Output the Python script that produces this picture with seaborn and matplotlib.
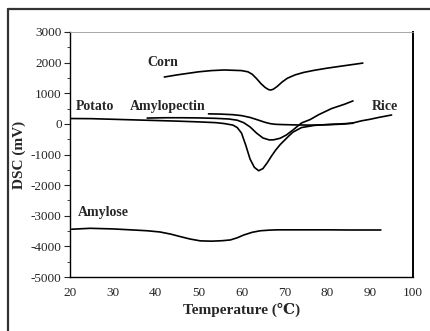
import matplotlib
matplotlib.use("Agg")
import matplotlib.pyplot as plt
from matplotlib.lines import Line2D
from matplotlib.ticker import MultipleLocator
import seaborn as sns
import pandas as pd

# ---- data ----
corn_t = [42, 45, 50, 53, 56, 60, 61.5, 62.5, 63.5, 64.5, 65.5, 66.3, 66.8, 67.4, 68.3, 69.5, 70.7, 72.5, 74.5, 77, 80, 84, 88.3]
corn_v = [1530, 1600, 1700, 1740, 1760, 1740, 1700, 1620, 1480, 1320, 1190, 1120, 1105, 1130, 1220, 1370, 1490, 1600, 1680, 1750, 1820, 1900, 1985]

potato_t = [20, 25, 30, 35, 40, 45, 50, 54, 56, 58, 59, 60, 61, 62, 63, 64, 65, 66, 67, 68, 69, 70, 71, 72, 74, 77, 80, 83, 86]
potato_v = [175, 170, 150, 130, 110, 90, 65, 40, 10, -40, -120, -300, -700, -1150, -1420, -1530, -1460, -1270, -1050, -850, -680, -540, -400, -270, -120, -50, -20, 0, 20]

amylo_t = [38, 42, 46, 50, 54, 57, 59, 60.5, 62, 63.5, 65, 66.5, 67.5, 69, 70.5, 72, 74, 76, 78, 81, 84, 86]
amylo_v = [190, 200, 200, 195, 180, 160, 120, 40, -100, -300, -460, -525, -520, -470, -360, -200, 30, 140, 300, 500, 640, 750]

rice_t = [52.3, 55, 58, 60, 62, 64, 65.5, 66.8, 68, 70, 73, 76, 80, 84, 86, 88, 90, 92, 95]
rice_v = [327, 320, 300, 270, 210, 120, 50, 5, -15, -25, -35, -40, -30, -5, 30, 100, 150, 210, 290]

amylose_t = [20.4, 24.7, 30, 34.8, 38, 41, 43.5, 45.7, 48, 50.4, 53, 55.5, 57.4, 59, 60.5, 62.5, 64.4, 66.5, 68.3, 72, 76, 80, 85, 92.5]
amylose_v = [-3440, -3410, -3430, -3465, -3490, -3530, -3600, -3680, -3760, -3820, -3830, -3815, -3790, -3720, -3630, -3540, -3490, -3470, -3460, -3460, -3460, -3460, -3465, -3465]

labels = ["Corn", "Potato", "Amylopectin", "Rice", "Amylose"]
label_pos_t = [20 + (147 - 70) / 4.29, 20 + (76 - 70) / 4.29, 20 + (130 - 70) / 4.29, 20 + (372 - 70) / 4.29, 20 + (78 - 70) / 4.29]
label_pos_v = [1990, 560, 560, 580, -2910]

x_ticks = [20, 30, 40, 50, 60, 70, 80, 90, 100]
y_ticks = [3000, 2000, 1000, 0, -1000, -2000, -3000, -4000, -5000]

sns.set_style("white")
plt.rcParams["font.family"] = ["Liberation Serif", "DejaVu Serif"]
plt.rcParams["axes.unicode_minus"] = False

fig = plt.figure(figsize=(4.31, 3.31), dpi=100)
ax = fig.add_axes([70 / 431, 54 / 331, 343 / 431, 245 / 331])

series = [(corn_t, corn_v), (potato_t, potato_v), (amylo_t, amylo_v), (rice_t, rice_v), (amylose_t, amylose_v)]
for t, v in series:
    df = pd.DataFrame({"T": t, "DSC": v})
    sns.lineplot(data=df, x="T", y="DSC", ax=ax, color="black", lw=1.2, sort=False, estimator=None)

ax.set_xlim(20, 100)
ax.set_ylim(-5000, 3000)
ax.set_xticks(x_ticks)
ax.set_yticks(y_ticks)
ax.yaxis.set_minor_locator(MultipleLocator(500))
ax.tick_params(axis="y", which="major", direction="out", length=4, width=0.8, left=True, labelsize=9.5, pad=2)
ax.tick_params(axis="y", which="minor", direction="out", length=2, width=0.6, left=True)
ax.tick_params(axis="x", which="major", length=0, labelsize=9.5, pad=7)
for s in ["left", "bottom"]:
    ax.spines[s].set_color("black")
    ax.spines[s].set_linewidth(1.0)
ax.spines["right"].set_color("black")
ax.spines["right"].set_linewidth(1.4)
ax.spines["top"].set_color("#999999")
ax.spines["top"].set_linewidth(0.6)

ax.set_xlabel("Temperature (\u2103)", fontsize=11, fontweight="bold", labelpad=3)
ax.set_ylabel("DSC (mV)", fontsize=11, fontweight="bold", labelpad=3)

for lab, t, v in zip(labels, label_pos_t, label_pos_v):
    ax.text(t, v, lab, fontsize=10, fontweight="bold", ha="left", va="center")

# outer frame (top and left edges visible)
fig.add_artist(Line2D([8 / 431, 1.0], [1 - 9 / 331, 1 - 9 / 331], transform=fig.transFigure, color="#333333", lw=1.6))
fig.add_artist(Line2D([8 / 431, 8 / 431], [0.0, 1 - 9 / 331], transform=fig.transFigure, color="#333333", lw=1.6))

fig.savefig("out.png", dpi=100)
